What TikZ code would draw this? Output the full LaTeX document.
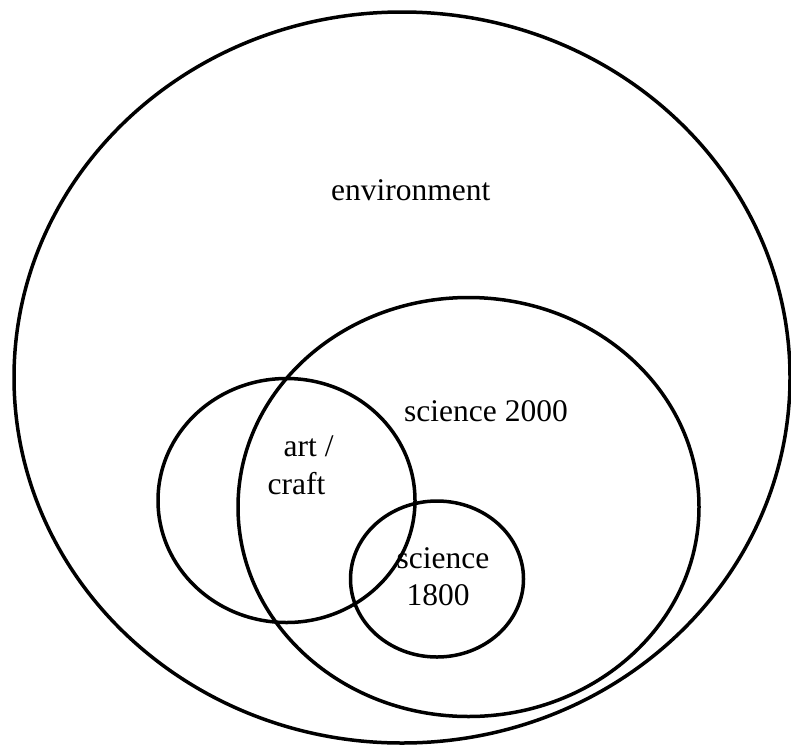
\documentclass[tikz,border=0pt]{standalone}
\usepackage{fontspec}
\setmainfont{Liberation Serif}
\begin{document}
\begin{tikzpicture}[x=1pt,y=-1pt,
  ring/.style={draw=black,line width=3.5pt},
  lbl/.style={anchor=base west,inner sep=0pt,font=\fontsize{31.5}{37}\selectfont}]
\useasboundingbox (0,0) rectangle (791,744);
\draw[ring] (402,377.5) ellipse [x radius=388, y radius=365.5];
\draw[ring] (468.5,507) ellipse [x radius=230.5, y radius=209.5];
\draw[ring] (286.5,500.5) ellipse [x radius=128.5, y radius=122];
\draw[ring] (437,579) ellipse [x radius=86.5, y radius=78];
\node[lbl] (env) at (331,200) {environment};
\node[lbl] (s2000) at (404,421.7) {science 2000};
\node[lbl] (art) at (283.5,456.7) {art /};
\node[lbl] (craft) at (267.5,494) {craft};
\node[lbl] (s1800a) at (396.5,568) {science};
\node[lbl] (s1800b) at (406.5,605.7) {1800};
\end{tikzpicture}
\end{document}
